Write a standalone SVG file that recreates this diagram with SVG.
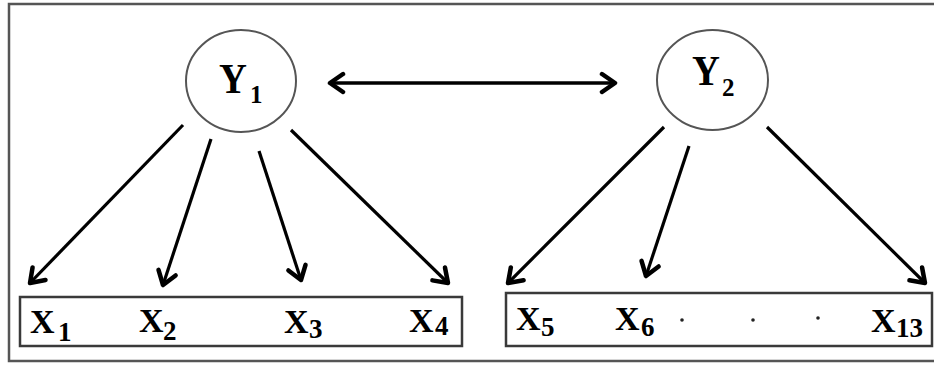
<svg xmlns="http://www.w3.org/2000/svg" width="934" height="367" viewBox="0 0 934 367">
<style>
.frame{fill:none;stroke:#555;stroke-width:2.5}
.box{fill:none;stroke:#3a3a3a;stroke-width:2.5}
.node{fill:#fff;stroke:#555;stroke-width:2}
.edge{fill:none;stroke:#000;stroke-width:3.2;marker-end:url(#ah)}
.dbl{fill:none;stroke:#000;stroke-width:3.5;marker-start:url(#ah);marker-end:url(#ah)}
.lbl{font-family:"Liberation Serif","Times New Roman",serif;font-weight:bold;fill:#000}
.big{font-size:42px}
.mid{font-size:34px}
.subY{font-size:25px}
.subX{font-size:27px}
.dot{fill:#222}
</style>
<defs>
<marker id="ah" markerUnits="userSpaceOnUse" markerWidth="24" markerHeight="24" viewBox="-18 -12 22 24" refX="0" refY="0" orient="auto-start-reverse">
<path d="M-13,-9 L0,0 L-13,9" fill="none" stroke="#000" stroke-width="4.5" stroke-linejoin="round" stroke-linecap="round"/>
</marker>
</defs>
<rect class="frame" x="9" y="4" width="940" height="357"/>
<g id="connectors">
<line class="edge" x1="183" y1="125" x2="30" y2="283"/>
<line class="edge" x1="211" y1="139" x2="163" y2="285"/>
<line class="edge" x1="259" y1="151" x2="301" y2="280"/>
<line class="edge" x1="291" y1="130" x2="448" y2="283"/>
<line class="edge" x1="664" y1="127" x2="508" y2="283"/>
<line class="edge" x1="689" y1="146" x2="646" y2="276"/>
<line class="edge" x1="767" y1="127" x2="925" y2="283"/>
<line class="dbl" x1="330" y1="83" x2="615" y2="83"/>
</g>
<g id="Y1">
<ellipse class="node" cx="241" cy="81" rx="55" ry="51"/>
<text class="lbl big" transform="translate(219,93) scale(0.92,1)">Y</text>
<text class="lbl subY" x="250" y="103">1</text>
</g>
<g id="Y2">
<ellipse class="node" cx="712.5" cy="80" rx="55.5" ry="50"/>
<text class="lbl big" transform="translate(692,85) scale(0.92,1)">Y</text>
<text class="lbl subY" x="722" y="96">2</text>
</g>
<g id="X1-4">
<rect class="box" x="20" y="297" width="442" height="49"/>
<text class="lbl mid" x="30" y="333">X<tspan class="subX" x="58" y="341">1</tspan></text>
<text class="lbl mid" x="139" y="332">X<tspan class="subX" x="163" y="340">2</tspan></text>
<text class="lbl mid" x="284" y="333">X<tspan class="subX" x="309" y="338">3</tspan></text>
<text class="lbl mid" x="409" y="332">X<tspan class="subX" x="435" y="335">4</tspan></text>
</g>
<g id="X5-13">
<rect class="box" x="506" y="293" width="426" height="53"/>
<text class="lbl mid" x="516" y="330">X<tspan class="subX" x="541" y="336">5</tspan></text>
<text class="lbl mid" x="615" y="330">X<tspan class="subX" x="641" y="336">6</tspan></text>
<circle class="dot" cx="682" cy="320" r="1.8"/>
<circle class="dot" cx="753" cy="320" r="1.8"/>
<circle class="dot" cx="818" cy="318" r="1.8"/>
<text class="lbl mid" x="871" y="332">X<tspan class="subX" x="896" y="337">13</tspan></text>
</g>
</svg>
